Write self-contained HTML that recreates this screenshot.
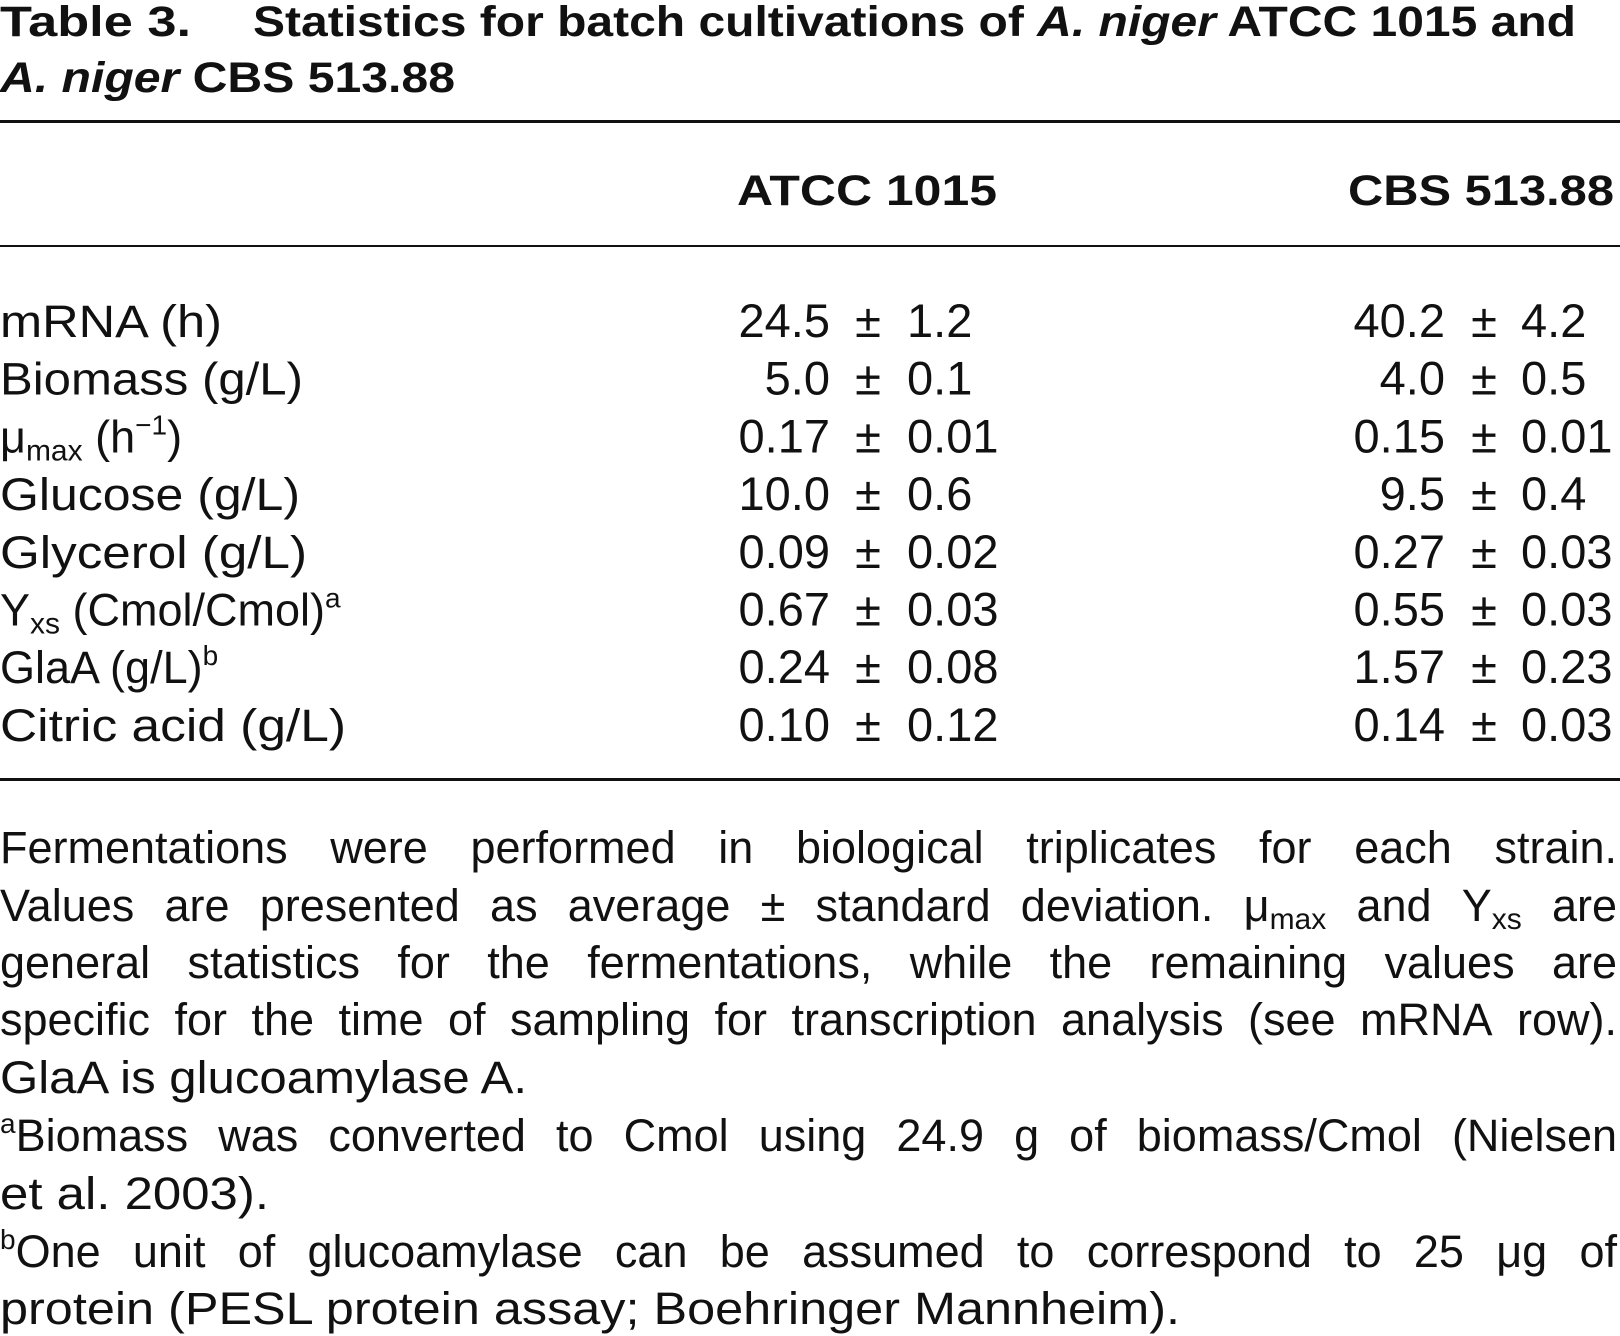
<!DOCTYPE html>
<html><head><meta charset="utf-8"><style>
html,body{margin:0;padding:0;background:#fff;}
svg{display:block;font-family:"Liberation Sans",sans-serif;}
</style></head><body>
<svg id="tbl" width="1620" height="1336" viewBox="0 0 1620 1336" xmlns="http://www.w3.org/2000/svg">
<rect width="1620" height="1336" fill="#fff"/>
<g font-weight="bold" font-size="43" fill="#111">
<text x="0" y="36" textLength="191" lengthAdjust="spacingAndGlyphs">Table 3.</text>
<text x="253" y="36" textLength="1323" lengthAdjust="spacingAndGlyphs">Statistics for batch cultivations of <tspan font-style="italic">A. niger</tspan> ATCC 1015 and</text>
<text x="0" y="92" textLength="455" lengthAdjust="spacingAndGlyphs"><tspan font-style="italic">A. niger</tspan> CBS 513.88</text>
</g>
<rect x="0" y="120" width="1620" height="3" fill="#111"/>
<g font-weight="bold" font-size="43" fill="#111">
<text x="737" y="205" textLength="260" lengthAdjust="spacingAndGlyphs">ATCC 1015</text>
<text x="1348" y="205" textLength="266" lengthAdjust="spacingAndGlyphs">CBS 513.88</text>
</g>
<rect x="0" y="245" width="1620" height="2" fill="#111"/>
<g id="rows" font-size="45" fill="#111"></g>
<rect x="0" y="778" width="1620" height="3" fill="#111"/>
<g id="notes" font-size="45" fill="#111"></g>
</svg>
<script>
const rowLabels = ["mRNA (h)","Biomass (g/L)","μmax (h−1)","Glucose (g/L)","Glycerol (g/L)","Yxs (Cmol/Cmol)a","GlaA (g/L)b","Citric acid (g/L)"];
const atccMean = ["24.5","5.0","0.17","10.0","0.09","0.67","0.24","0.10"];
const atccSd = ["1.2","0.1","0.01","0.6","0.02","0.03","0.08","0.12"];
const cbsMean = ["40.2","4.0","0.15","9.5","0.27","0.55","1.57","0.14"];
const cbsSd = ["4.2","0.5","0.01","0.4","0.03","0.03","0.23","0.03"];

const NS = "http://www.w3.org/2000/svg";
const rows = document.getElementById('rows');
function mk(parent, tag, attrs, txt){
  const e = document.createElementNS(NS, tag);
  for (const k in attrs) e.setAttribute(k, attrs[k]);
  if (txt !== undefined) e.textContent = txt;
  parent.appendChild(e);
  return e;
}
const labelWidths = [222,303,null,300,307,null,null,346];
rowLabels.forEach((lab, i) => {
  const y = 337 + i * 57.7;
  const g = mk(rows, 'g', {});
  
  
  let t;
  if (i === 2) {
    t = mk(g, 'text', {x: 0, y: y});
    t.appendChild(document.createTextNode('μ'));
    mk(t, 'tspan', {'font-size': 30, dy: 8}, 'max');
    mk(t, 'tspan', {dy: -8}, ' (h');
    mk(t, 'tspan', {'font-size': 28, dy: -18}, '−1');
    mk(t, 'tspan', {dy: 18}, ')');
  } else if (i === 5) {
    t = mk(g, 'text', {x: 0, y: y});
    t.appendChild(document.createTextNode('Y'));
    mk(t, 'tspan', {'font-size': 30, dy: 8}, 'xs');
    mk(t, 'tspan', {dy: -8}, ' (Cmol/Cmol)');
    mk(t, 'tspan', {'font-size': 28, dy: -18}, 'a');
  } else if (i === 6) {
    t = mk(g, 'text', {x: 0, y: y});
    t.appendChild(document.createTextNode('GlaA (g/L)'));
    mk(t, 'tspan', {'font-size': 28, dy: -18}, 'b');
  } else {
    t = mk(g, 'text', {x: 0, y: y, textLength: labelWidths[i], lengthAdjust: 'spacingAndGlyphs'}, lab);
  }
  
  
  const cols = [[atccMean[i], atccSd[i], 830, 868, 907], [cbsMean[i], cbsSd[i], 1445, 1484, 1521]];
  cols.forEach((c, j) => {
    const m = mk(g, 'text', {x: c[2], y: y, 'text-anchor': 'end', 'font-size': 47}, c[0]);
    
    
    const pm = mk(g, 'text', {x: c[3], y: y, 'text-anchor': 'middle', 'font-size': 47}, '±');
    
    
    const s = mk(g, 'text', {x: c[4], y: y, 'text-anchor': 'start', 'font-size': 47}, c[1]);
    
    
  });
});

const notes = document.getElementById('notes');
// words: strings, or arrays of [text, 'sub'|'sup'|''] segments
function justifyLine(words, y, x0, x1, prefix){
  const g = mk(notes, 'g', {});
  
  
  let start = x0;
  if (prefix) {
    const p = mk(g, 'text', {x: x0, y: y - 18, 'font-size': 28}, prefix);
    start = x0 + p.getComputedTextLength();
  }
  const els = words.map(w => {
    if (typeof w === 'string') return mk(g, 'text', {x: 0, y: y}, w);
    const t = mk(g, 'text', {x: 0, y: y});
    w.forEach(s => {
      if (s[1] === 'sub') mk(t, 'tspan', {'font-size': 30, y: y + 8}, s[0]);
      else mk(t, 'tspan', {y: y}, s[0]);
    });
    return t;
  });
  const widths = els.map(e => e.getComputedTextLength());
  const total = widths.reduce((a, b) => a + b, 0);
  const gap = (x1 - start - total) / (words.length - 1);
  let x = start;
  els.forEach((e, k) => { e.setAttribute('x', x); x += widths[k] + gap; });
}
function plainLine(txt, y, width){
  const t = mk(notes, 'text', {x: 0, y: y, textLength: width, lengthAdjust: 'spacingAndGlyphs'}, txt);
  
  
}
justifyLine("Fermentations were performed in biological triplicates for each strain.".split(' '), 863, 0, 1617);
justifyLine("Values are presented as average ± standard deviation.".split(' ').concat([[['μ',''],['max','sub']], 'and', [['Y',''],['xs','sub']], 'are']), 921, 0, 1617);
justifyLine("general statistics for the fermentations, while the remaining values are".split(' '), 978, 0, 1617);
justifyLine("specific for the time of sampling for transcription analysis (see mRNA row).".split(' '), 1035, 0, 1617);
plainLine("GlaA is glucoamylase A.", 1093, 527);
justifyLine("Biomass was converted to Cmol using 24.9 g of biomass/Cmol (Nielsen".split(' '), 1151, 0, 1617, 'a');
plainLine("et al. 2003).", 1209, 269);
justifyLine("One unit of glucoamylase can be assumed to correspond to 25 μg of".split(' '), 1267, 0, 1617, 'b');
plainLine("protein (PESL protein assay; Boehringer Mannheim).", 1324, 1180);
</script>
</body></html>
